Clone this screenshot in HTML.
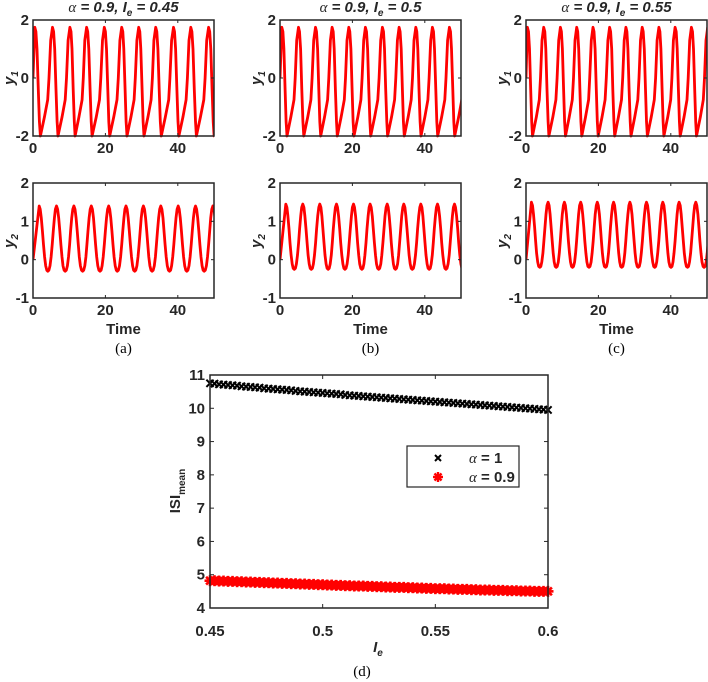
<!DOCTYPE html>
<html><head><meta charset="utf-8"><style>
html,body{margin:0;padding:0;background:#fff;}
svg{display:block;font-family:"Liberation Sans",sans-serif;}
.tk{font-size:15px;font-weight:bold;fill:#262626;}
.cap{font-family:"Liberation Serif",serif;font-size:15px;fill:#000;}
</style></head><body>
<svg id="fig" width="708" height="682" viewBox="0 0 708 682">
</svg>
<script>
// ---------- data ----------
const panelAlpha = [0.9, 0.9, 0.9];
const panelIe = ["0.45", "0.5", "0.55"];
const panelCaps = ["(a)", "(b)", "(c)"];
const y1PeakTimesA = [0.5, 5.4, 10.2, 14.8, 19.7, 24.5, 29.2, 33.9, 38.8, 43.6, 48.5];
const y1PeakTimesB = [0.5, 5.1, 9.8, 14.4, 19.0, 23.6, 28.3, 32.9, 37.5, 42.1, 46.8];
const y1PeakTimesC = [0.4, 4.9, 9.5, 14.0, 18.5, 23.1, 27.6, 32.1, 36.7, 41.2, 45.7];
const y2PeakA = [1.7, 6.5, 11.3, 16.1, 20.9, 25.7, 30.5, 35.3, 40.1, 44.9, 49.7];
const y2PeakB = [1.6, 6.3, 11.0, 15.6, 20.3, 24.9, 29.6, 34.2, 38.9, 43.5, 48.2];
const y2PeakC = [1.5, 6.1, 10.6, 15.1, 19.7, 24.2, 28.7, 33.3, 37.8, 42.3, 46.9];
const y2Max = [1.4, 1.45, 1.5];
const y2Min = [-0.3, -0.25, -0.2];
const y1Ticks = [-2, 0, 2];
const y2Ticks = [-1, 0, 1, 2];
const timeTicks = [0, 20, 40];

const isiIeStart = 0.45, isiIeStep = 0.002;
const isiAlpha1 = [10.75,10.74,10.72,10.71,10.70,10.69,10.68,10.66,10.65,10.64,
10.63,10.62,10.60,10.59,10.58,10.57,10.56,10.55,10.54,10.52,
10.51,10.50,10.49,10.48,10.47,10.46,10.45,10.44,10.43,10.42,
10.40,10.39,10.38,10.37,10.36,10.35,10.34,10.33,10.32,10.31,
10.30,10.29,10.28,10.27,10.26,10.25,10.24,10.23,10.22,10.21,
10.20,10.19,10.18,10.17,10.16,10.15,10.14,10.13,10.12,10.11,
10.10,10.09,10.08,10.07,10.06,10.05,10.04,10.03,10.02,10.01,
10.00,9.99,9.98,9.97,9.96,9.95];
const isiAlpha09 = [4.82,4.82,4.81,4.81,4.80,4.80,4.79,4.79,4.78,4.78,
4.77,4.77,4.76,4.76,4.75,4.75,4.74,4.74,4.73,4.73,
4.72,4.72,4.71,4.71,4.70,4.70,4.69,4.69,4.68,4.68,
4.67,4.67,4.66,4.66,4.66,4.65,4.65,4.64,4.64,4.63,
4.63,4.62,4.62,4.62,4.61,4.61,4.60,4.60,4.59,4.59,
4.58,4.58,4.58,4.57,4.57,4.56,4.56,4.56,4.55,4.55,
4.54,4.54,4.54,4.53,4.53,4.53,4.52,4.52,4.52,4.51,
4.51,4.51,4.50,4.50,4.50,4.50];
const isiXTicks = [0.45, 0.5, 0.55, 0.6];
const isiYTicks = [4,5,6,7,8,9,10,11];

// ---------- helpers ----------
const NS = "http://www.w3.org/2000/svg";
const svg = document.getElementById("fig");
function mk(tag, attrs, parent, text) {
  const e = document.createElementNS(NS, tag);
  for (const k in attrs) e.setAttribute(k, attrs[k]);
  if (text !== undefined) e.textContent = text;
  (parent || svg).appendChild(e);
  return e;
}
const y1Tpl = [[0,1.75],[0.3,1.6],[0.6,1.0],[0.95,-0.4],[1.25,-1.5],[1.5,-2],[2.6,-1.35],[3.5,-0.75],[3.85,0],[4.3,1.3],[4.8,1.75]];

const lefts = [33, 280, 526];
const W = 181;
const y1Peaks = [y1PeakTimesA, y1PeakTimesB, y1PeakTimesC];
const y2Peaks = [y2PeakA, y2PeakB, y2PeakC];

for (let p = 0; p < 3; p++) {
  const L = lefts[p];
  const g = mk("g", {});
  
  
  const xs = t => L + t / 50 * W;
  const T1 = 20, B1 = 136;
  const ys1 = v => B1 - (v + 2) / 4 * (B1 - T1);
  const clip1 = mk("clipPath", {id: "c1" + p}, g);
  mk("rect", {x: L, y: T1 - 3, width: W, height: B1 - T1 + 6}, clip1);
  const pk = y1Peaks[p];
  let pts = [[0, 0]];
  for (let i = 0; i < pk.length; i++) {
    const per = i + 1 < pk.length ? pk[i + 1] - pk[i] : pk[i] - pk[i - 1];
    const sc = per / 4.8;
    for (const q of y1Tpl) pts.push([pk[i] + q[0] * sc, q[1]]);
  }
  let d = pts.map((q, i) => (i ? "L" : "M") + xs(q[0]).toFixed(1) + "," + ys1(q[1]).toFixed(1)).join("");
  const l1 = mk("path", {d: d, fill: "none", stroke: "#ff0000", "stroke-width": 2.8, "stroke-linejoin": "round", "clip-path": "url(#c1" + p + ")"}, g);
  
  
  const ax1 = mk("rect", {x: L, y: T1, width: W, height: B1 - T1, fill: "none", stroke: "#262626", "stroke-width": 1.5}, g);
  
  
  for (const v of y1Ticks) {
    mk("text", {x: L - 4, y: ys1(v) + 5, "text-anchor": "end", class: "tk"}, g, String(v));
    mk("line", {x1: L, x2: L + 3, y1: ys1(v), y2: ys1(v), stroke: "#262626"}, g);
    mk("line", {x1: L + W, x2: L + W - 3, y1: ys1(v), y2: ys1(v), stroke: "#262626"}, g);
  }
  for (const v of timeTicks) {
    mk("text", {x: xs(v), y: B1 + 17, "text-anchor": "middle", class: "tk"}, g, String(v));
    mk("line", {x1: xs(v), x2: xs(v), y1: B1, y2: B1 - 3, stroke: "#262626"}, g);
    mk("line", {x1: xs(v), x2: xs(v), y1: T1, y2: T1 + 3, stroke: "#262626"}, g);
  }
  const yl1 = mk("text", {x: 0, y: 0, transform: "translate(" + (L - 19) + "," + (T1 + 58) + ") rotate(-90)", "text-anchor": "middle", class: "tk", "font-style": "italic"}, g);
  
  
  yl1.innerHTML = 'y<tspan font-size="10" dy="4">1</tspan>';
  const ttl = mk("text", {x: L + W / 2, y: 12, "text-anchor": "middle", class: "tk", "font-style": "italic"}, g);
  
  
  ttl.innerHTML = '<tspan font-family="Liberation Serif" font-weight="normal">α</tspan> = ' + panelAlpha[p] + ',  I<tspan font-size="10" dy="4">e</tspan><tspan dy="-4"> = ' + panelIe[p] + '</tspan>';
  const T2 = 183, B2 = 298;
  const ys2 = v => B2 - (v + 1) / 3 * (B2 - T2);
  const clip2 = mk("clipPath", {id: "c2" + p}, g);
  mk("rect", {x: L, y: T2, width: W, height: B2 - T2}, clip2);
  const pk2 = y2Peaks[p];
  const mx = y2Max[p], mn = y2Min[p];
  let pts2 = [[0, 0]];
  for (let i = 0; i < pk2.length; i++) {
    const per = i + 1 < pk2.length ? pk2[i + 1] - pk2[i] : pk2[i] - pk2[i - 1];
    const segs = 16;
    for (let k = 0; k < segs; k++) {
      const ph = k / segs;
      const c = Math.cos(2 * Math.PI * ph);
      const w = (c + 1) / 2;
      const v = mn + (mx - mn) * Math.pow(w, 1.3);
      pts2.push([pk2[i] + ph * per, v]);
    }
  }
  pts2.push([pk2[pk2.length - 1] + 5, mx]);
  let d2 = pts2.map((q, i) => (i ? "L" : "M") + xs(q[0]).toFixed(1) + "," + ys2(q[1]).toFixed(1)).join("");
  const l2 = mk("path", {d: d2, fill: "none", stroke: "#ff0000", "stroke-width": 2.8, "stroke-linejoin": "round", "clip-path": "url(#c2" + p + ")"}, g);
  
  
  const ax2 = mk("rect", {x: L, y: T2, width: W, height: B2 - T2, fill: "none", stroke: "#262626", "stroke-width": 1.5}, g);
  
  
  for (const v of y2Ticks) {
    mk("text", {x: L - 4, y: ys2(v) + 5, "text-anchor": "end", class: "tk"}, g, String(v));
    mk("line", {x1: L, x2: L + 3, y1: ys2(v), y2: ys2(v), stroke: "#262626"}, g);
    mk("line", {x1: L + W, x2: L + W - 3, y1: ys2(v), y2: ys2(v), stroke: "#262626"}, g);
  }
  for (const v of timeTicks) {
    mk("text", {x: xs(v), y: B2 + 17, "text-anchor": "middle", class: "tk"}, g, String(v));
    mk("line", {x1: xs(v), x2: xs(v), y1: B2, y2: B2 - 3, stroke: "#262626"}, g);
    mk("line", {x1: xs(v), x2: xs(v), y1: T2, y2: T2 + 3, stroke: "#262626"}, g);
  }
  const yl2 = mk("text", {x: 0, y: 0, transform: "translate(" + (L - 19) + "," + (T2 + 58) + ") rotate(-90)", "text-anchor": "middle", class: "tk", "font-style": "italic"}, g);
  
  
  yl2.innerHTML = 'y<tspan font-size="10" dy="4">2</tspan>';
  const xl = mk("text", {x: L + W / 2, y: 334, "text-anchor": "middle", class: "tk"}, g, "Time");
  
  
  const cp = mk("text", {x: L + W / 2, y: 353, "text-anchor": "middle", class: "cap"}, g, panelCaps[p]);
  
  
}

// ---------- ISI chart ----------
const XL = 210, XR = 548, YT = 375, YB = 608;
const xI = v => XL + (v - 0.45) / 0.15 * (XR - XL);
const yI = v => YB - (v - 4) / 7 * (YB - YT);
const gd = mk("g", {});


mk("rect", {x: XL, y: YT, width: XR - XL, height: YB - YT, fill: "#fff"}, gd);
for (let i = 0; i < isiAlpha09.length; i++) {
  const cx = xI(isiIeStart + i * isiIeStep), cy = yI(isiAlpha09[i]);
  const s = mk("g", {stroke: "#ff0000", "stroke-width": 2.6}, gd);
  
  
  for (let a = 0; a < 4; a++) {
    const an = a * Math.PI / 4, r = 5.5;
    mk("line", {x1: cx - r * Math.cos(an), y1: cy - r * Math.sin(an), x2: cx + r * Math.cos(an), y2: cy + r * Math.sin(an)}, s);
  }
}
for (let i = 0; i < isiAlpha1.length; i++) {
  const cx = xI(isiIeStart + i * isiIeStep), cy = yI(isiAlpha1[i]), r = 3.6;
  const s = mk("path", {d: `M${cx - r},${cy - r}L${cx + r},${cy + r}M${cx - r},${cy + r}L${cx + r},${cy - r}`, stroke: "#000", "stroke-width": 2}, gd);
  
  
}
const axd = mk("rect", {x: XL, y: YT, width: XR - XL, height: YB - YT, fill: "none", stroke: "#262626", "stroke-width": 1.5}, gd);


for (const v of isiXTicks) {
  mk("text", {x: xI(v), y: 636, "text-anchor": "middle", class: "tk"}, gd, String(v));
  mk("line", {x1: xI(v), x2: xI(v), y1: YB, y2: YB - 4, stroke: "#262626"}, gd);
  mk("line", {x1: xI(v), x2: xI(v), y1: YT, y2: YT + 4, stroke: "#262626"}, gd);
}
for (const v of isiYTicks) {
  mk("text", {x: XL - 5, y: yI(v) + 5, "text-anchor": "end", class: "tk"}, gd, String(v));
  mk("line", {x1: XL, x2: XL + 4, y1: yI(v), y2: yI(v), stroke: "#262626"}, gd);
  mk("line", {x1: XR, x2: XR - 4, y1: yI(v), y2: yI(v), stroke: "#262626"}, gd);
}
const yld = mk("text", {transform: "translate(180,491) rotate(-90)", "text-anchor": "middle", class: "tk"}, gd);


yld.innerHTML = 'ISI<tspan font-size="10" dy="5">mean</tspan>';
const xld = mk("text", {x: 378, y: 652, "text-anchor": "middle", class: "tk", "font-style": "italic"}, gd);


xld.innerHTML = 'I<tspan font-size="10" dy="4">e</tspan>';
const capd = mk("text", {x: 362, y: 676, "text-anchor": "middle", class: "cap"}, gd, "(d)");


const lg = mk("g", {}, gd);


mk("rect", {x: 407, y: 446, width: 112, height: 41, fill: "#fff", stroke: "#262626", "stroke-width": 1.2}, lg);
const le1 = mk("g", {}, lg);


mk("path", {d: "M435,455L441,461M435,461L441,455", stroke: "#000", "stroke-width": 2}, le1);
const t1 = mk("text", {x: 469, y: 463, class: "tk"}, le1);
t1.innerHTML = '<tspan font-family="Liberation Serif" font-weight="normal" font-style="italic">α</tspan> = 1';
const le2 = mk("g", {stroke: "#ff0000", "stroke-width": 2.4}, lg);


for (let a = 0; a < 4; a++) {
  const an = a * Math.PI / 4, r = 5, cx = 438, cy = 477;
  mk("line", {x1: cx - r * Math.cos(an), y1: cy - r * Math.sin(an), x2: cx + r * Math.cos(an), y2: cy + r * Math.sin(an)}, le2);
}
const t2 = mk("text", {x: 469, y: 482, class: "tk"}, lg);
t2.innerHTML = '<tspan font-family="Liberation Serif" font-weight="normal" font-style="italic">α</tspan> = 0.9';
</script>
</body></html>
